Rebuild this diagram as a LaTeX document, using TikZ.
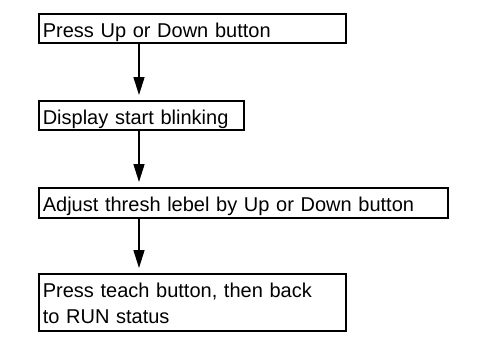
\documentclass[tikz,border=0pt]{standalone}
\usepackage{fontspec}
\setmainfont{Liberation Sans}
\usetikzlibrary{arrows.meta}
\tikzset{
  stepbox/.style={draw,line width=1.6pt,anchor=north west,inner xsep=4pt,inner ysep=0pt,
    align=left,text height=24pt,text depth=5pt,font=\fontsize{20}{26}\selectfont},
  flow/.style={line width=1.6pt,-{Triangle[length=18pt,width=11pt]},shorten >=5pt}
}
\begin{document}
\begin{tikzpicture}[x=1pt,y=-1pt]
    \useasboundingbox (0,0) rectangle (477,338);
    \node[stepbox,text width=299pt] (press) at (38,13) {Press Up or Down button};
    \node[stepbox,text width=197pt] (blink) at (38,100) {Display start blinking};
    \node[stepbox,text width=401pt,text depth=6pt] (adjust) at (38,187) {Adjust thresh lebel by Up or Down button};
    \node[stepbox,text width=299pt,text depth=33pt] (teach) at (38,273) {Press teach button, then back\\to RUN status};
    % arrows all hang on the same vertical
    \coordinate (ax) at (139,0);
    \foreach \a/\b in {press/blink,blink/adjust,adjust/teach}{
    \draw[flow] (\a.south -| ax) -- (\b.north -| ax);
    }
\end{tikzpicture}
\end{document}
